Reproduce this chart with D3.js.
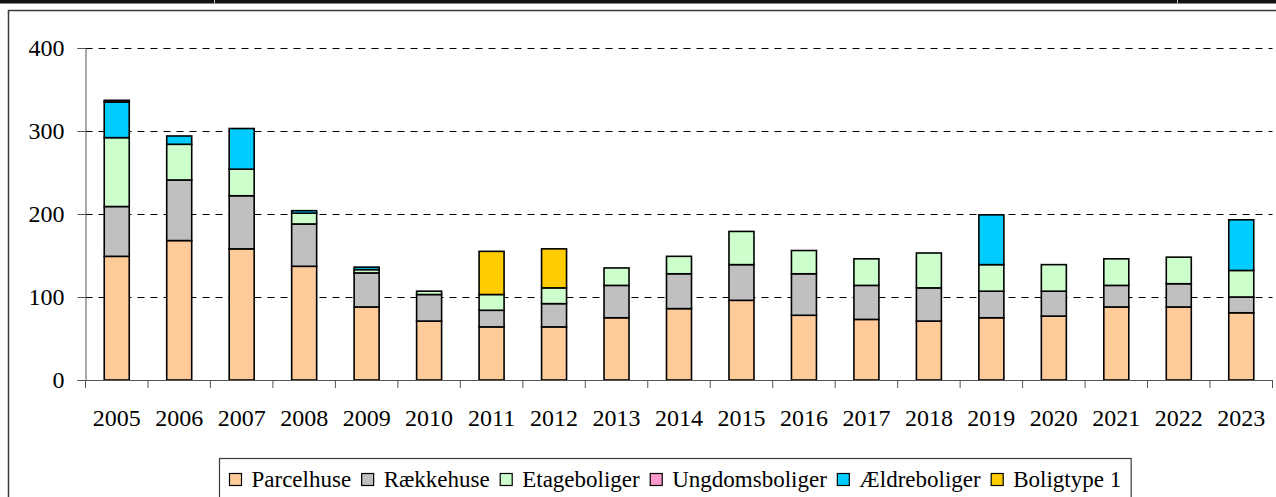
<!DOCTYPE html>
<html>
<head>
<meta charset="utf-8">
<script src="https://cdn.jsdelivr.net/npm/d3@7"></script>
<style>
  html, body { margin: 0; padding: 0; background: #fff; }
  svg { display: block; }
  svg text { font-family: "Liberation Serif", "Times New Roman", Times, serif; fill: #000; }
</style>
</head>
<body>
<svg id="chart" width="1276" height="497"></svg>
<script>
const years = ["2005","2006","2007","2008","2009","2010","2011","2012","2013","2014","2015","2016","2017","2018","2019","2020","2021","2022","2023"];
const seriesNames = ["Parcelhuse","Rækkehuse","Etageboliger","Ungdomsboliger","Ældreboliger","Boligtype 1"];
const parcelhuse     = [149,168,158,137, 88, 71, 64, 64, 75, 86, 96, 78, 73, 71, 75, 77, 88, 88, 81];
const raekkehuse     = [ 60, 73, 64, 51, 41, 32, 20, 28, 39, 42, 43, 50, 41, 40, 32, 30, 26, 28, 19];
const etageboliger   = [ 83, 43, 32, 13,  4,  4, 19, 19, 21, 21, 40, 28, 32, 42, 32, 32, 32, 32, 32];
const ungdomsboliger = [  0,  0,  0,  0,  0,  0,  0,  0,  0,  0,  0,  0,  0,  0,  0,  0,  0,  0,  0];
const aeldreboliger  = [ 43, 10, 49,  3,  3,  0,  0,  0,  0,  0,  0,  0,  0,  0, 60,  0,  0,  0, 61];
const boligtype1     = [  2,  0,  0,  0,  0,  0, 52, 47,  0,  0,  0,  0,  0,  0,  0,  0,  0,  0,  0];
const yTicks = [0,100,200,300,400];
const colors = ["#FFCC99","#C0C0C0","#CCFFCC","#FF99CC","#00CCFF","#FFCC00"];

const FONT = '"Liberation Serif", "Times New Roman", Times, serif';
const seriesValues = [parcelhuse, raekkehuse, etageboliger, ungdomsboliger, aeldreboliger, boligtype1];
const rows = years.map((y, i) => {
  const r = { year: y };
  seriesNames.forEach((n, k) => r[n] = seriesValues[k][i]);
  return r;
});

const svg = d3.select("#chart");

// top dark strip (remains of a table above)
svg.append("rect").attr("x", 0).attr("y", 0).attr("width", 1276).attr("height", 3.5).attr("fill", "#141010");
[214, 1177].forEach(x => svg.append("rect").attr("x", x).attr("y", 0).attr("width", 1).attr("height", 3.5).attr("fill", "#bbb"));

// chart area border
svg.append("rect").attr("x", 8.5).attr("y", 10.5).attr("width", 1300).attr("height", 520)
  .attr("fill", "none").attr("stroke", "#3a3a3a").attr("stroke-width", 1.5);

const x0 = 85.5, x1 = 1272.5, yTop = 48, yBot = 380;
const x = d3.scaleBand().domain(years).range([x0, x1]).paddingInner(0).paddingOuter(0);
const y = d3.scaleLinear().domain([0, 400]).range([yBot, yTop]);

// gridlines
svg.append("g").selectAll("line").data(yTicks.filter(t => t > 0)).join("line")
  .attr("x1", x0).attr("x2", x1)
  .attr("y1", d => Math.round(y(d)) + 0.5).attr("y2", d => Math.round(y(d)) + 0.5)
  .attr("stroke", "#000").attr("stroke-width", 1).attr("stroke-dasharray", "7,6");

// stacked bars
const stacked = d3.stack().keys(seriesNames)(rows);
const barW = 25;
const g = svg.append("g");
stacked.forEach((layer, k) => {
  g.append("g").selectAll("rect").data(layer.filter(d => d[1] - d[0] > 0)).join("rect")
    .attr("x", d => x(d.data.year) + x.bandwidth() / 2 - barW / 2)
    .attr("y", d => y(d[1]))
    .attr("width", barW)
    .attr("height", d => y(d[0]) - y(d[1]))
    .attr("fill", colors[k])
    .attr("stroke", "#000").attr("stroke-width", 1.6);
});

// y axis
const yAxis = d3.axisLeft(y).tickValues(yTicks).tickSize(8).tickPadding(13).tickFormat(d3.format("d"));
const ya = svg.append("g").attr("transform", `translate(${x0},0)`).call(yAxis)
  .attr("font-family", FONT).attr("font-size", 24);
ya.select(".domain").attr("stroke", "#555");
ya.selectAll(".tick line").attr("stroke", "#555");
ya.selectAll(".tick text").style("font-family", FONT).style("font-size", "24px").attr("fill", "#000");

// x axis
const xAxis = d3.axisBottom(x).tickSize(0).tickPadding(0);
const xa = svg.append("g").attr("transform", `translate(0,${yBot})`).call(xAxis)
  .attr("font-family", FONT).attr("font-size", 24);
xa.select(".domain").attr("stroke", "#555");
xa.selectAll(".tick text").style("font-family", FONT).style("font-size", "24px").attr("fill", "#000")
  .attr("dy", null).attr("y", 45.5);
// category boundary ticks
const bounds = years.map(yr => x(yr)).concat([x1]);
svg.append("g").selectAll("line").data(bounds).join("line")
  .attr("x1", d => d).attr("x2", d => d).attr("y1", yBot).attr("y2", yBot + 8)
  .attr("stroke", "#555").attr("stroke-width", 1);

// legend
const leg = svg.append("g");
const legBox = leg.append("rect").attr("y", 458.5).attr("height", 60)
  .attr("fill", "#fff").attr("stroke", "#3a3a3a").attr("stroke-width", 1.2);
let cx = 229;
seriesNames.forEach((n, k) => {
  leg.append("rect").attr("x", cx + 0.5).attr("y", 473.5).attr("width", 12).attr("height", 12)
    .attr("fill", colors[k]).attr("stroke", "#000").attr("stroke-width", 1.2);
  const t = leg.append("text").attr("x", cx + 22.5).attr("y", 487)
    .style("font-family", FONT).style("font-size", "23px").text(n);
  cx = cx + 22.5 + t.node().getComputedTextLength() + 10;
});
legBox.attr("x", 219.5).attr("width", cx - 219.5);
</script>
</body>
</html>
